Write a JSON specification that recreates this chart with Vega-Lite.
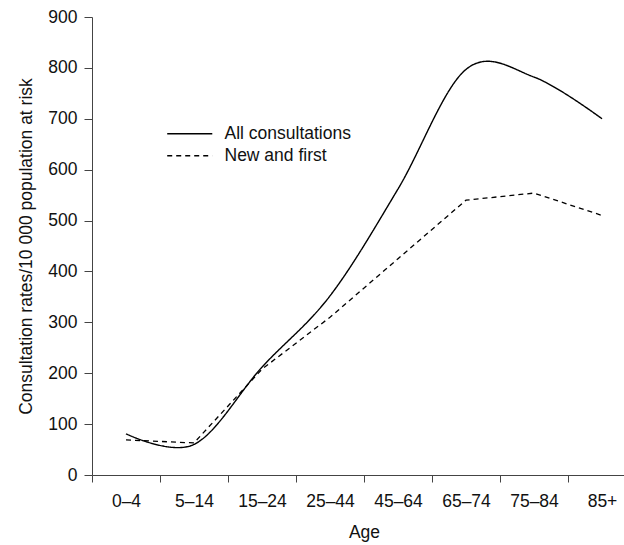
{
  "$schema": "https://vega.github.io/schema/vega-lite/v6.json",
  "autosize": "none",
  "padding": {"left": 92, "top": 17, "right": 0, "bottom": 70},
  "width": 544,
  "height": 458,
  "background": "white",
  "config": {
    "view": {"stroke": null},
    "font": "Liberation Sans",
    "axis": {"grid": false, "domainColor": "#444", "tickColor": "#444", "labelColor": "#111", "titleColor": "#111", "labelFont": "Liberation Sans", "titleFont": "Liberation Sans", "labelFontSize": 17.5, "titleFontSize": 17.5, "titleFontWeight": "normal"}
  },
  "data": {
    "values": [
      {"age": "0–4", "series": "All consultations", "rate": 81},
      {"age": "5–14", "series": "All consultations", "rate": 60},
      {"age": "15–24", "series": "All consultations", "rate": 212},
      {"age": "25–44", "series": "All consultations", "rate": 352},
      {"age": "45–64", "series": "All consultations", "rate": 562},
      {"age": "65–74", "series": "All consultations", "rate": 797},
      {"age": "75–84", "series": "All consultations", "rate": 782},
      {"age": "85+", "series": "All consultations", "rate": 700},
      {"age": "0–4", "series": "New and first", "rate": 69},
      {"age": "5–14", "series": "New and first", "rate": 63},
      {"age": "15–24", "series": "New and first", "rate": 208},
      {"age": "25–44", "series": "New and first", "rate": 310},
      {"age": "45–64", "series": "New and first", "rate": 425},
      {"age": "65–74", "series": "New and first", "rate": 540},
      {"age": "75–84", "series": "New and first", "rate": 554},
      {"age": "85+", "series": "New and first", "rate": 510}
    ]
  },
  "encoding": {
    "x": {
      "field": "age", "type": "ordinal", "sort": null, "bandPosition": 0.5,
      "scale": {"type": "band", "paddingInner": 0, "paddingOuter": 0},
      "axis": {"title": "Age", "labelAngle": 0, "tickBand": "extent", "tickSize": 7, "labelPadding": 10, "titlePadding": 14}
    },
    "y": {
      "field": "rate", "type": "quantitative",
      "scale": {"domain": [0, 900], "nice": false},
      "axis": {"title": "Consultation rates/10 000 population at risk", "values": [0,100,200,300,400,500,600,700,800,900], "tickSize": 8, "labelPadding": 7, "titlePadding": 12}
    },
    "strokeDash": {
      "field": "series", "type": "nominal",
      "scale": {"domain": ["All consultations", "New and first"], "range": [[1, 0], [5, 4]]},
      "legend": {"title": null, "orient": "none", "legendX": 89, "legendY": 108, "symbolType": "M-4,0H4", "symbolSize": 127, "symbolStrokeWidth": 1.3, "symbolStrokeColor": "#000", "symbolFillColor": "transparent", "labelFontSize": 17.5, "labelFont": "Liberation Sans", "labelColor": "#111", "labelOffset": 26, "rowPadding": 3}
    }
  },
  "layer": [
    {
      "transform": [{"filter": "datum.series === 'All consultations'"}],
      "mark": {"type": "line", "interpolate": "cardinal", "color": "#000", "strokeWidth": 1.4}
    },
    {
      "transform": [{"filter": "datum.series === 'New and first'"}],
      "mark": {"type": "line", "interpolate": "linear", "color": "#000", "strokeWidth": 1.3}
    }
  ]
}
